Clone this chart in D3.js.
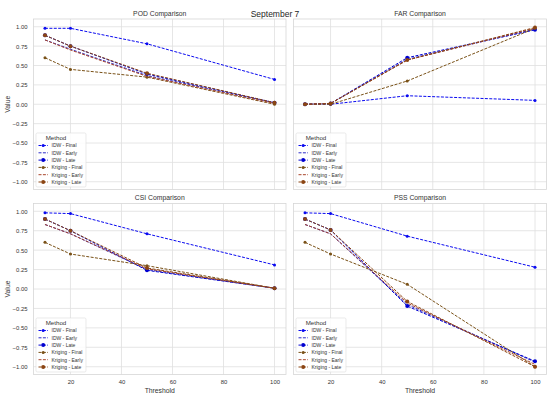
<!DOCTYPE html>
<html>
<head>
<meta charset="utf-8">
<script src="https://cdn.jsdelivr.net/npm/d3@7"></script>
<style>
  body { margin: 0; background: #fff; }
  text { font-family: "Liberation Sans", Arial, sans-serif; }
</style>
</head>
<body>
<div id="chart"></div>
<script>
// data
const thresholds = [10, 20, 50, 100];
const methods = ["IDW - Final", "IDW - Early", "IDW - Late", "Kriging - Final", "Kriging - Early", "Kriging - Late"];
const yTicks = [-1, -0.75, -0.5, -0.25, 0, 0.25, 0.5, 0.75, 1];
const xTicks = [20, 40, 60, 80, 100];

// one row per method, same order as methods
const podValues = [
  [0.98, 0.98, 0.78, 0.32],
  [0.83, 0.71, 0.37, 0.02],
  [0.89, 0.75, 0.39, 0.02],
  [0.60, 0.45, 0.35, 0.00],
  [0.83, 0.70, 0.36, 0.01],
  [0.89, 0.75, 0.40, 0.02]
];
const farValues = [
  [0.00, 0.00, 0.11, 0.05],
  [0.00, 0.01, 0.58, 0.97],
  [0.00, 0.01, 0.60, 0.96],
  [0.00, 0.00, 0.30, 0.98],
  [0.00, 0.01, 0.57, 0.98],
  [0.00, 0.01, 0.57, 0.99]
];
const csiValues = [
  [0.98, 0.97, 0.71, 0.31],
  [0.83, 0.71, 0.25, 0.01],
  [0.90, 0.75, 0.24, 0.01],
  [0.60, 0.45, 0.30, 0.01],
  [0.83, 0.71, 0.26, 0.01],
  [0.90, 0.75, 0.27, 0.01]
];
const pssValues = [
  [0.98, 0.97, 0.68, 0.28],
  [0.83, 0.71, -0.20, -0.94],
  [0.90, 0.76, -0.22, -0.93],
  [0.60, 0.45, 0.06, -1.00],
  [0.83, 0.71, -0.18, -0.97],
  [0.90, 0.76, -0.16, -1.00]
];

const panelTitles = ["POD Comparison", "FAR Comparison", "CSI Comparison", "PSS Comparison"];
const panelValues = [podValues, farValues, csiValues, pssValues];

const colors = ["#0a0af0", "#2c2cc8", "#0000d0", "#7a5218", "#a8442a", "#8b4513"];
const markerR = [1.5, 0, 2.0, 1.5, 0, 2.0];

const svgWidth = 550, svgHeight = 397;
const svg = d3.select("#chart").append("svg")
  .attr("width", svgWidth)
  .attr("height", svgHeight);

const cols = [{x0: 33.5, x1: 286}, {x0: 293.5, x1: 546.5}];
const rows = [{y0: 19, y1: 189.5}, {y0: 203.5, y1: 374.5}];

svg.append("text")
  .attr("x", 275).attr("y", 17)
  .attr("text-anchor", "middle")
  .attr("font-size", 8.5)
  .attr("fill", "#262626")
  .text("September 7");

panelValues.forEach(function(values, i) {
  let c = cols[i % 2], r = rows[Math.floor(i / 2)];
  let x = d3.scaleLinear().domain([5.5, 104.5]).range([c.x0, c.x1]);
  let y = d3.scaleLinear().domain([-1.1, 1.1]).range([r.y1, r.y0]);
  let g = svg.append("g");

  // grid
  g.append("g").selectAll("line").data(yTicks).enter().append("line")
    .attr("x1", c.x0).attr("x2", c.x1)
    .attr("y1", d => y(d)).attr("y2", d => y(d))
    .attr("stroke", "#e0e0e0").attr("stroke-width", 0.8);
  g.append("g").selectAll("line").data(xTicks).enter().append("line")
    .attr("y1", r.y0).attr("y2", r.y1)
    .attr("x1", d => x(d)).attr("x2", d => x(d))
    .attr("stroke", "#e0e0e0").attr("stroke-width", 0.8);
  g.append("rect")
    .attr("x", c.x0).attr("y", r.y0)
    .attr("width", c.x1 - c.x0).attr("height", r.y1 - r.y0)
    .attr("fill", "none").attr("stroke", "#d6d6d6").attr("stroke-width", 0.8);

  if (i % 2 == 0) {
    let ax = g.append("g")
      .attr("transform", `translate(${c.x0},0)`)
      .call(d3.axisLeft(y).tickValues(yTicks).tickFormat(d3.format(".2f")).tickSize(0).tickPadding(6));
    ax.select(".domain").remove();
    ax.selectAll("text").attr("font-size", 5.9).attr("fill", "#333")
      .style("font-family", "Liberation Sans, Arial, sans-serif");
    g.append("text")
      .attr("transform", `translate(9.5,${(r.y0 + r.y1) / 2}) rotate(-90)`)
      .attr("text-anchor", "middle")
      .attr("font-size", 6.8)
      .attr("fill", "#333")
      .text("Value");
  }
  if (i >= 2) {
    let ax = g.append("g")
      .attr("transform", `translate(0,${r.y1})`)
      .call(d3.axisBottom(x).tickValues(xTicks).tickSize(0).tickPadding(5));
    ax.select(".domain").remove();
    ax.selectAll("text").attr("font-size", 5.9).attr("fill", "#333")
      .style("font-family", "Liberation Sans, Arial, sans-serif");
    g.append("text")
      .attr("x", (c.x0 + c.x1) / 2).attr("y", 392.5)
      .attr("text-anchor", "middle")
      .attr("font-size", 6.8)
      .attr("fill", "#333")
      .text("Threshold");
  }

  g.append("text")
    .attr("x", (c.x0 + c.x1) / 2).attr("y", r.y0 - 3.5)
    .attr("text-anchor", "middle")
    .attr("font-size", 6.8)
    .attr("fill", "#333")
    .text(panelTitles[i]);

  let line = d3.line().x((d, k) => x(thresholds[k])).y(d => y(d));
  values.forEach(function(v, m) {
    g.append("path")
      .attr("d", line(v))
      .attr("fill", "none")
      .attr("stroke", colors[m])
      .attr("stroke-width", 1)
      .attr("stroke-dasharray", "3,1.4");
    if (markerR[m] > 0) {
      g.append("g").selectAll("circle").data(v).enter().append("circle")
        .attr("cx", (d, k) => x(thresholds[k]))
        .attr("cy", d => y(d))
        .attr("r", markerR[m])
        .attr("fill", colors[m]);
    }
  });

  // legend
  let lx = c.x0 + 2.5, ly = r.y1 - 56.5;
  let lg = g.append("g").attr("transform", `translate(${lx},${ly})`);
  lg.append("rect")
    .attr("width", 50).attr("height", 54)
    .attr("rx", 1.5)
    .attr("fill", "#fff").attr("fill-opacity", 0.85)
    .attr("stroke", "#dcdcdc").attr("stroke-width", 0.6);
  lg.append("text")
    .attr("x", 20).attr("y", 6.8)
    .attr("text-anchor", "middle")
    .attr("font-size", 6.2)
    .attr("fill", "#333")
    .text("Method");
  methods.forEach(function(name, m) {
    let yy = 12.5 + m * 7.3;
    lg.append("line")
      .attr("x1", 2.5).attr("x2", 12)
      .attr("y1", yy).attr("y2", yy)
      .attr("stroke", colors[m]).attr("stroke-width", 1)
      .attr("stroke-dasharray", "3,1.4");
    if (markerR[m] > 0) {
      lg.append("circle").attr("cx", 7.2).attr("cy", yy).attr("r", markerR[m]).attr("fill", colors[m]);
    }
    lg.append("text")
      .attr("x", 15.5).attr("y", yy + 1.8)
      .attr("font-size", 5)
      .attr("fill", "#333")
      .text(name);
  });
});
</script>
</body>
</html>
